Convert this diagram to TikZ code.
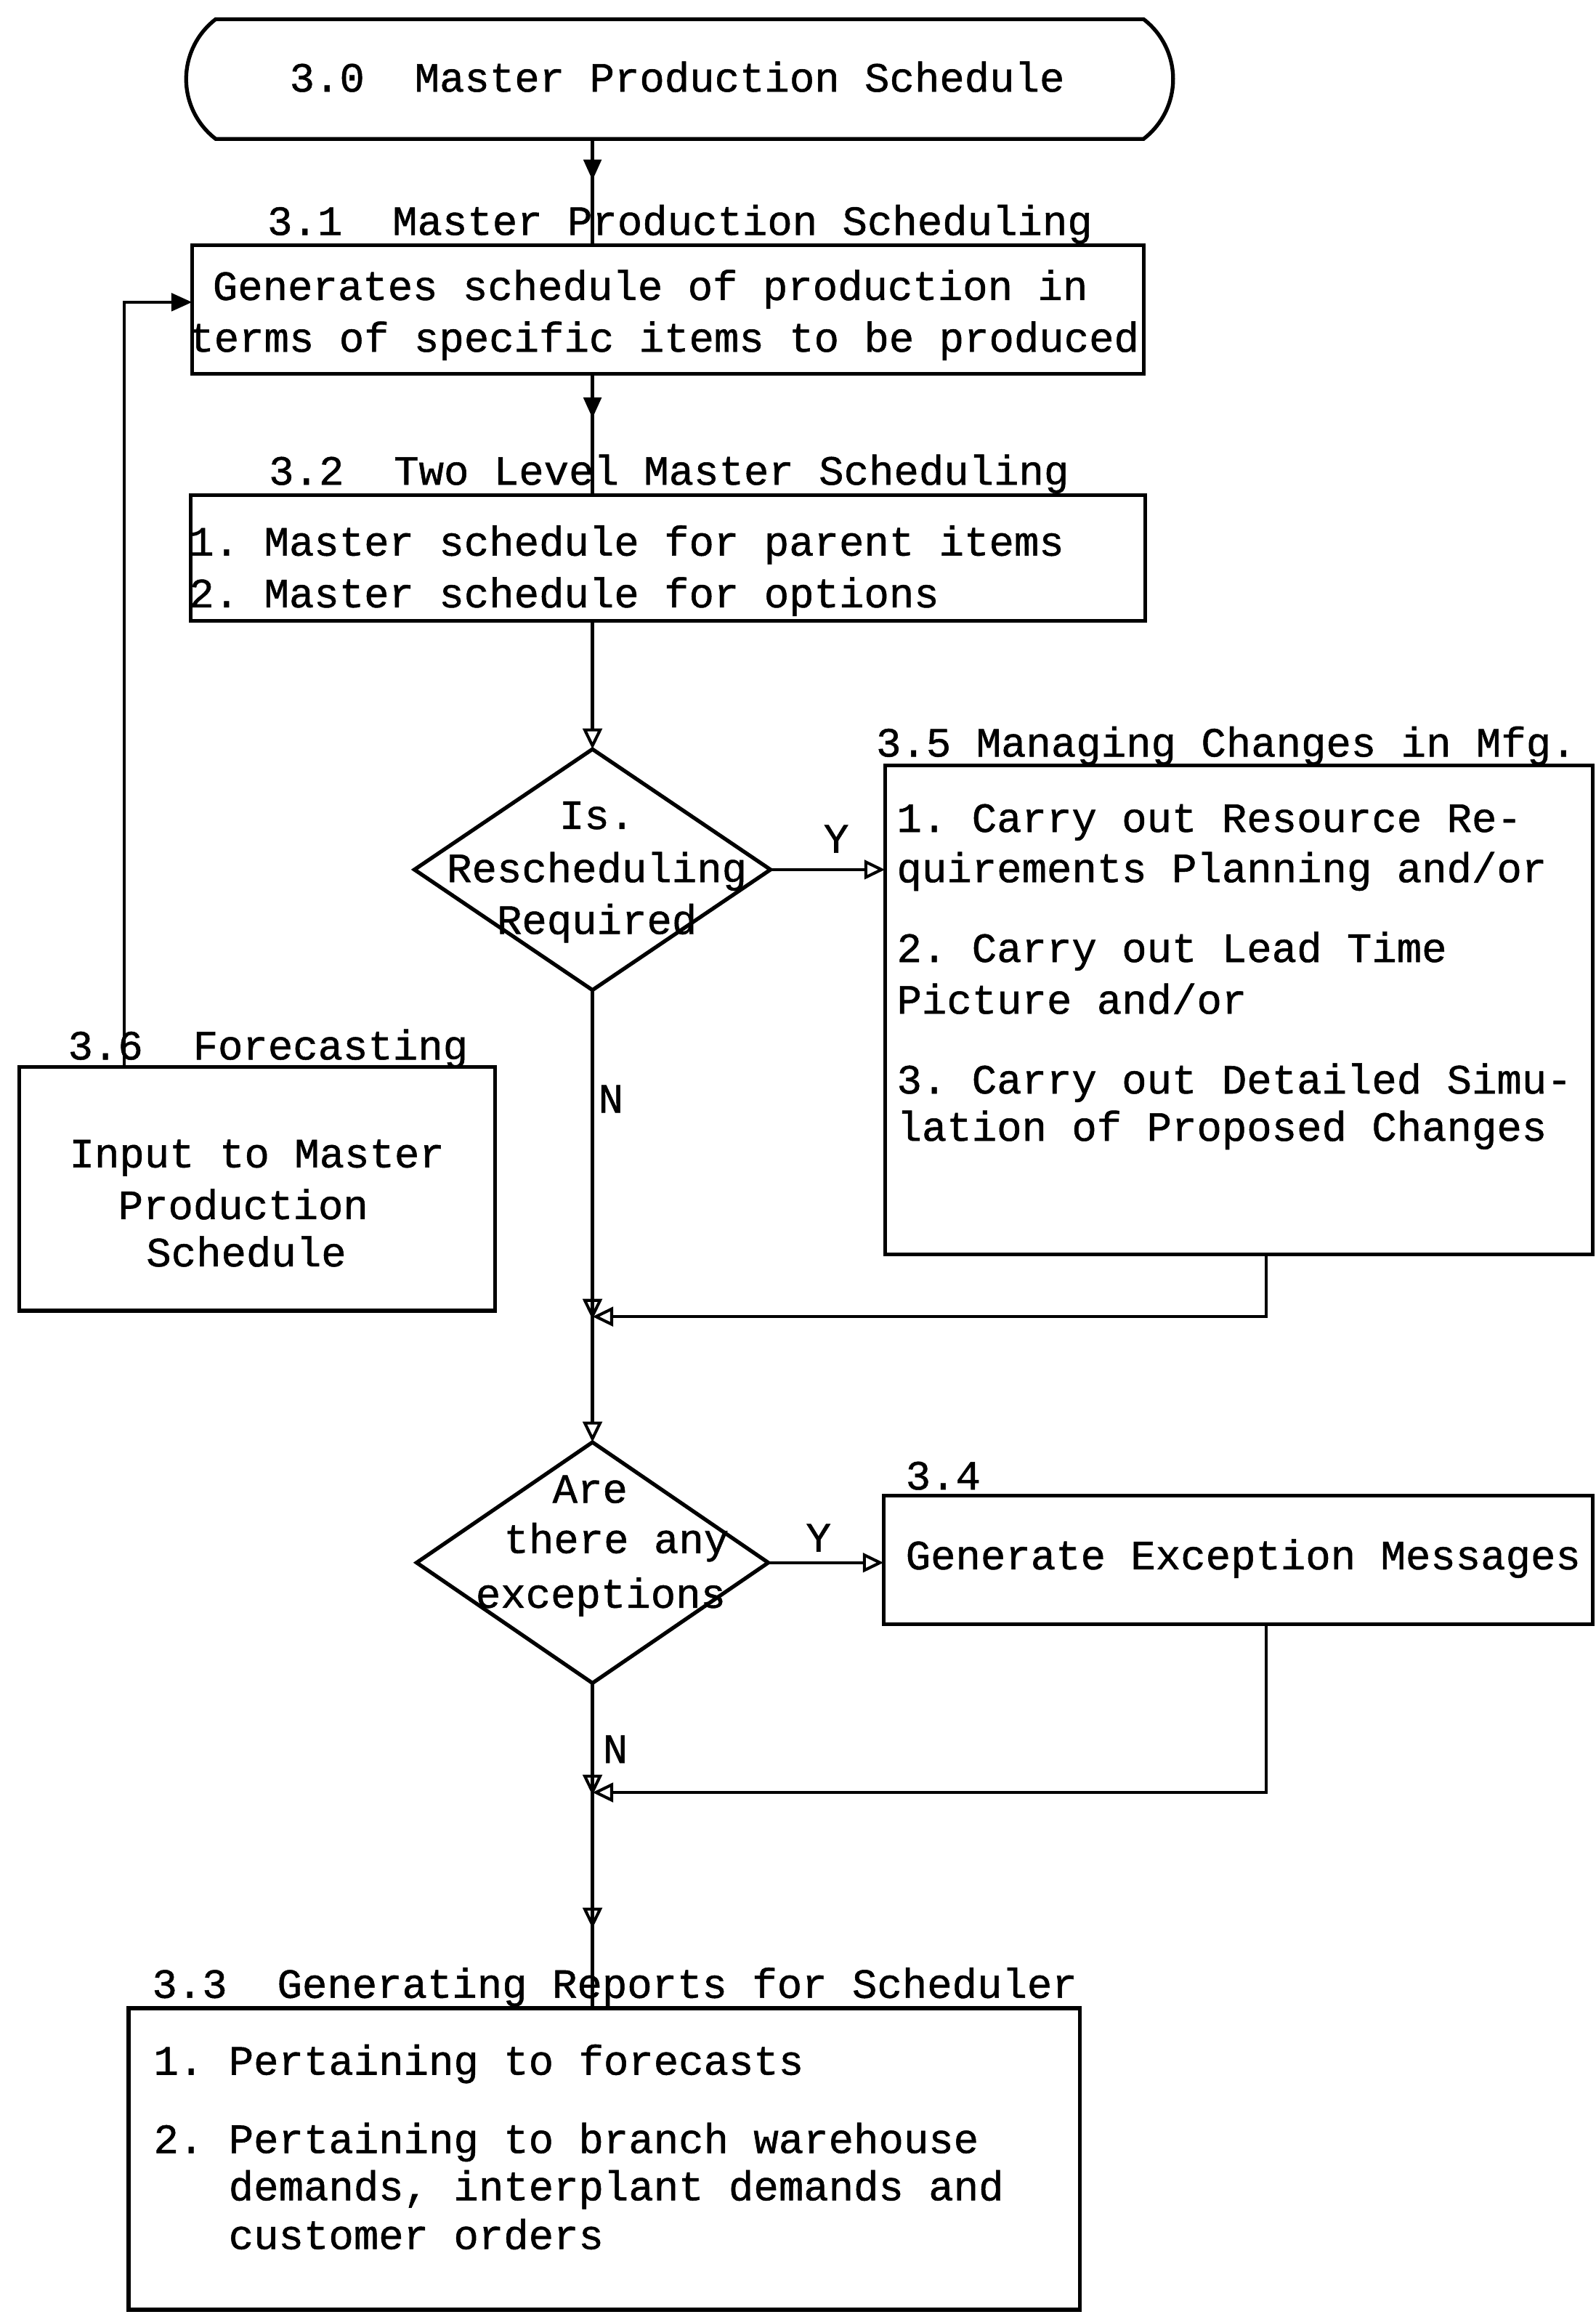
\documentclass[tikz,border=0pt]{standalone}
\usepackage{fontspec}
\setmainfont[FakeBold=0.9]{Liberation Mono}
\usetikzlibrary{shapes.geometric,shapes.misc,arrows.meta,decorations.markings}

\newcommand\twfont{\fontsize{28.2pt}{34pt}\selectfont\frenchspacing}

\begin{document}
\begin{tikzpicture}[x=1pt,y=-1pt,
  frame/.style={draw, line width=2.6pt, inner sep=0pt, outer sep=0pt},
  box/.style={frame, rectangle},
  decision/.style={frame, diamond},
  txt/.style={anchor=base west, inner sep=0pt, outer sep=0pt, font=\twfont},
  ctxt/.style={anchor=base, inner sep=0pt, outer sep=0pt, font=\twfont},
  flow/.style={line width=2.1pt},
  solidtip/.style={-{Triangle[length=14pt,width=12pt]}},
  opentip/.style={-{Triangle[open,length=14pt,width=13pt,line width=2pt]}},
  midsolid/.style={postaction={decorate, decoration={markings,
      mark=at position #1 with {\arrow{Triangle[length=14pt,width=12pt]}}}}},
  midopen/.style={postaction={decorate, decoration={markings,
      mark=at position #1 with {\arrow{Triangle[open,length=14pt,width=13pt,line width=2pt]}}}}}
]
\fill[white] (0,0) rectangle (1080,1568);
\useasboundingbox (0,0) rectangle (1080,1568);

% main vertical spine of the flow
\coordinate (spine) at (401,0);

% 3.0 terminal
\node[frame, rounded rectangle, rounded rectangle arc length=105,
      minimum width=668pt, minimum height=81pt] (mps) at (460,53.5) {};
\node[txt] (mpsT) at (196,62) {3.0~~Master Production Schedule};

% 3.1 master production scheduling
\node[box, minimum width=644pt, minimum height=87pt] (mps1) at (452,209.5) {};
\node[txt] (mps1T) at (181,159) {3.1~~Master Production Scheduling};
\node[txt] (mps1a) at (144,203) {Generates schedule of production in};
\node[txt] (mps1b) at (128,238) {terms of specific items to be produced};

% 3.2 two level master scheduling
\node[box, minimum width=646pt, minimum height=85pt] (mps2) at (452,377.5) {};
\node[txt] (mps2T) at (182,328) {3.2~~Two Level Master Scheduling};
\node[txt] (mps2a) at (128,376) {1. Master schedule for parent items};
\node[txt] (mps2b) at (128,411) {2. Master schedule for options};

% decision: rescheduling
\node[decision, minimum width=241pt, minimum height=163pt] (d1) at (401,588.5) {};
\node[ctxt] (d1a) at (404,561) {Is.};
\node[ctxt] (d1b) at (404,597) {Rescheduling};
\node[ctxt] (d1c) at (404,632) {Required};
\node[ctxt] (y1) at (566,577) {Y};
\node[txt] (n1) at (405,753) {N};

% 3.5 managing changes
\node[box, minimum width=479pt, minimum height=331pt] (b35) at (838.5,683.5) {};
\node[txt] (b35T) at (593,512) {3.5 Managing Changes in Mfg.};
\node[txt] (b35a) at (607,563) {1. Carry out Resource Re-};
\node[txt] (b35b) at (607,597) {quirements Planning and/or};
\node[txt] (b35c) at (607,651) {2. Carry out Lead Time};
\node[txt] (b35d) at (607,686) {Picture and/or};
\node[txt] (b35e) at (607,740) {3. Carry out Detailed Simu-};
\node[txt] (b35f) at (607,772) {lation of Proposed Changes};

% 3.6 forecasting
\node[box, minimum width=322pt, minimum height=165pt] (fc) at (174,804.5) {};
\node[txt] (fcT) at (46,717) {3.6~~Forecasting};
\node[txt] (fca) at (47,790) {Input to Master};
\node[txt] (fcb) at (80,825) {Production};
\node[txt] (fcc) at (99,857) {Schedule};

% decision: exceptions
\node[decision, minimum width=238pt, minimum height=163pt] (d2) at (401,1057.5) {};
\node[txt] (d2a) at (374,1017) {Are};
\node[txt] (d2b) at (341,1051) {there any};
\node[txt] (d2c) at (322,1088) {exceptions};
\node[ctxt] (y2) at (554,1050) {Y};
\node[txt] (n2) at (408,1193) {N};

% 3.4 exception messages
\node[box, minimum width=480pt, minimum height=87pt] (b34) at (838,1055.5) {};
\node[txt] (b34T) at (613,1008) {3.4};
\node[txt] (b34a) at (613,1062) {Generate Exception Messages};

% 3.3 reports
\node[box, minimum width=644pt, minimum height=204pt] (b33) at (409,1461) {};
\node[txt] (b33T) at (103,1352) {3.3~~Generating Reports for Scheduler};
\node[txt] (b33a) at (104,1404) {1. Pertaining to forecasts};
\node[txt] (b33b) at (104,1457) {2. Pertaining to branch warehouse};
\node[txt] (b33c) at (104,1489) {~~~demands, interplant demands and};
\node[txt] (b33d) at (104,1522) {~~~customer orders};

% junctions on the spine
\coordinate (m1) at (401,891);
\coordinate (m2) at (401,1213);

% connectors
\draw[flow, midsolid=28pt] (mps.south -| spine) -- (mps1.north -| spine);
\draw[flow, midsolid=30pt] (mps1.south -| spine) -- (mps2.north -| spine);
\draw[flow, opentip] (mps2.south -| spine) -- (d1.north);
\draw[flow, opentip] (d1.east) -- (d1.east -| b35.west);
\draw[flow, opentip, midopen=223pt] (d1.south) -- (d2.north);
\draw[flow, opentip] ([xshift=18.5pt]b35.south) |- (m1);
\draw[flow, solidtip] ([xshift=71pt]fc.north west) |- ([yshift=5pt]mps1.west);
\draw[flow, opentip] (d2.east) -- (d2.east -| b34.west);
\draw[flow, opentip] ([xshift=19pt]b34.south) |- (m2);
\draw[flow, midopen=76pt, midopen=166pt] (d2.south) -- (d2.south |- b33.north);
\end{tikzpicture}
\end{document}
